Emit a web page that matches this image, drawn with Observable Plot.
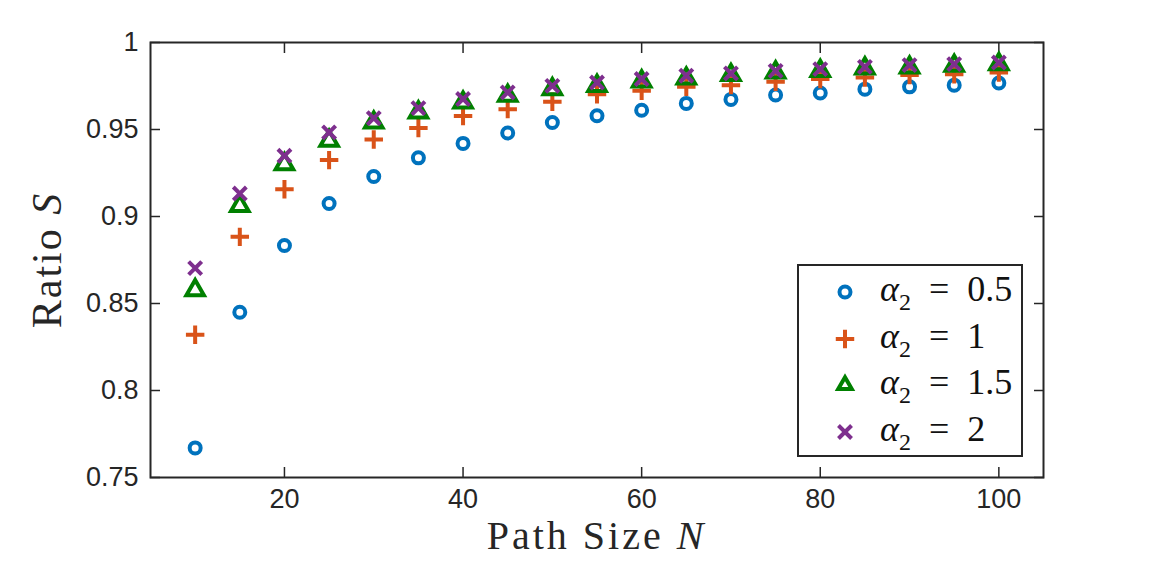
<!DOCTYPE html>
<html><head><meta charset="utf-8">
<script src="https://cdn.jsdelivr.net/npm/d3@7"></script>
<script src="https://cdn.jsdelivr.net/npm/@observablehq/plot@0.6"></script>
<style>
body{margin:0;background:#fff;}
#wrap{position:relative;width:1155px;height:567px;overflow:hidden;}
.lab{position:absolute;font-family:"Liberation Serif","Times New Roman",serif;color:#262626;font-size:40px;letter-spacing:3px;white-space:nowrap;line-height:30px;}
#ylab{font-size:42px;letter-spacing:2px;}
#legend{position:absolute;left:797px;top:264px;width:226px;height:193px;box-sizing:border-box;border:2px solid #262626;background:#fff;}
.row{position:absolute;left:0;height:46px;line-height:46px;width:220px;}
.row svg{position:absolute;left:31px;top:8px;}
.row span{position:absolute;left:81px;top:-3px;font-family:"Liberation Serif","Times New Roman",serif;font-size:36px;color:#111;white-space:nowrap;}
.row sub{font-size:24px;vertical-align:-9px;line-height:0;}
</style></head><body><div id="wrap"></div>
<script>
const pathSize = [10,15,20,25,30,35,40,45,50,55,60,65,70,75,80,85,90,95,100];
const ratioA05 = [0.767,0.845,0.8833,0.9075,0.923,0.9337,0.942,0.948,0.954,0.9579,0.9611,0.965,0.9673,0.9698,0.971,0.9732,0.9745,0.9755,0.9767];
const ratioA1  = [0.832,0.8883,0.9157,0.9324,0.9443,0.9508,0.9577,0.9617,0.9659,0.9703,0.9722,0.9745,0.9755,0.9774,0.979,0.9799,0.9813,0.9818,0.9828];
const ratioA15 = [0.8577,0.9061,0.9301,0.9435,0.954,0.9598,0.9655,0.9694,0.9732,0.9751,0.9776,0.9793,0.9813,0.9828,0.9837,0.9851,0.9856,0.9866,0.9876];
const ratioA2  = [0.8703,0.9132,0.9349,0.9483,0.9565,0.9623,0.9675,0.9713,0.9751,0.977,0.979,0.9809,0.9822,0.9837,0.9847,0.986,0.987,0.9876,0.9885];
const xTicks = [20,40,60,80,100];
const yTicks = [0.75,0.8,0.85,0.9,0.95,1];
const seriesNames = ["0.5","1","1.5","2"];
const seriesValues = [ratioA05, ratioA1, ratioA15, ratioA2];
const seriesSymbols = ["circle","plus","triangle","times"];
const seriesColors = ["#0072BD","#D95319","#008000","#7E2F8E"];
const seriesR = [5.5,6,6.5,6];

const data = seriesNames.flatMap((nm,k) => pathSize.map((n,i) => ({N:n, S:seriesValues[k][i], key:nm})));

const marks = [
  Plot.axisX(xTicks, {anchor:"bottom", tickSize:-10, tickPadding:21, label:null, tickFormat:d=>String(d), stroke:"#262626", strokeWidth:1.5}),
  Plot.axisX(xTicks, {anchor:"top", tickSize:-10, label:null, tickFormat:()=>"", stroke:"#262626", strokeWidth:1.5}),
  Plot.axisY(yTicks, {anchor:"left", tickSize:-10, tickPadding:22, label:null, tickFormat:d=>String(d), stroke:"#262626", strokeWidth:1.5}),
  Plot.axisY(yTicks, {anchor:"right", tickSize:-10, label:null, tickFormat:()=>"", stroke:"#262626", strokeWidth:1.5}),
  Plot.frame({stroke:"#262626", strokeWidth:2})
];
seriesNames.forEach((nm,k) => {
  marks.push(Plot.dot(data.filter(d => d.key === nm), {x:"N", y:"S", symbol:seriesSymbols[k], stroke:seriesColors[k], r:seriesR[k], strokeWidth:4}));
});

const chart = Plot.plot({
  width:1155, height:567,
  marginLeft:150, marginRight:112, marginTop:42, marginBottom:90,
  x:{domain:[5,105]},
  y:{domain:[0.75,1]},
  style:{fontFamily:"'Liberation Sans', Arial, sans-serif", fontSize:"27px", color:"#262626", background:"white", overflow:"visible"},
  marks
});
const wrap = document.getElementById("wrap");
wrap.appendChild(chart);

const xl = document.createElement("div");
xl.className = "lab";
xl.innerHTML = "Path Size <i>N</i>";
xl.style.left = "596.5px"; xl.style.top = "521px"; xl.style.transform = "translateX(-50%)";
wrap.appendChild(xl);

const yl = document.createElement("div");
yl.className = "lab";
yl.id = "ylab";
yl.innerHTML = "Ratio <i>S</i>";
yl.style.left = "47px"; yl.style.top = "260px"; yl.style.transform = "translate(-50%,-50%) rotate(-90deg)";
wrap.appendChild(yl);

const lg = document.createElement("div");
lg.id = "legend";
const symMap = {circle:d3.symbolCircle, plus:d3.symbolPlus, triangle:d3.symbolTriangle2, times:d3.symbolTimes};
seriesNames.forEach((nm,k) => {
  const row = document.createElement("div");
  row.className = "row";
  row.style.top = (3 + k*46.5) + "px";
  const r = seriesR[k];
  const p = d3.symbol(symMap[seriesSymbols[k]], r*r*Math.PI)();
  row.innerHTML = `<svg width="30" height="30" viewBox="-15 -15 30 30"><path d="${p}" fill="none" stroke="${seriesColors[k]}" stroke-width="4"/></svg><span><i>α</i><sub>2</sub>&ensp;=&ensp;${nm}</span>`;
  lg.appendChild(row);
});
wrap.appendChild(lg);
</script>
</body></html>
